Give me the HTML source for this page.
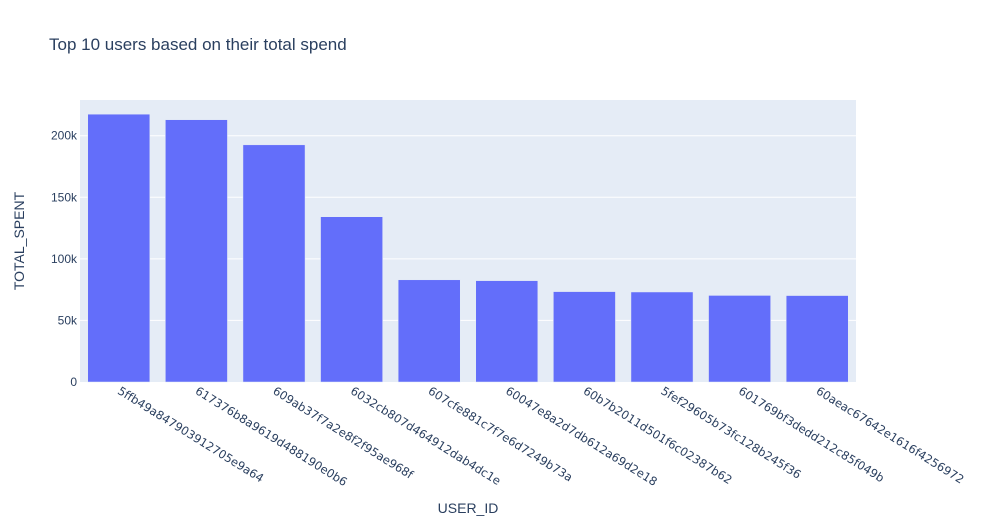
<!DOCTYPE html>
<html><head><meta charset="utf-8"><style>
body{margin:0;background:#fff;font-family:"Liberation Sans",Arial,sans-serif}
svg text{font-family:"Liberation Sans",Arial,sans-serif;fill:#2a3f5f}
svg text.xt{font-family:"DejaVu Sans",sans-serif}
</style></head><body>
<svg id="chart" width="985" height="525" xmlns="http://www.w3.org/2000/svg">
<text x="49" y="50" font-size="17">Top 10 users based on their total spend</text>
<rect x="80" y="100" width="776" height="282" fill="#e5ecf6"/>
<g id="grid"></g><g id="bars"></g><g id="xlabels"></g><g id="ylabels"></g>
<text transform="translate(24,241) rotate(-90)" text-anchor="middle" font-size="14">TOTAL_SPENT</text>
<text x="468" y="513" text-anchor="middle" font-size="14">USER_ID</text>
</svg>
<script>
const categories=["5ffb49a847903912705e9a64","617376b8a9619d488190e0b6","609ab37f7a2e8f2f95ae968f","6032cb807d464912dab4dc1e","607cfe881c7f7e6d7249b73a","60047e8a2d7db612a69d2e18","60b7b2011d501f6c02387b62","5fef29605b73fc128b245f36","601769bf3dedd212c85f049b","60aeac67642e1616f4256972"];
const values=[217500,213000,192600,134200,83000,82300,73400,73100,70300,70200];
const yTicks=[0,50000,100000,150000,200000];
const yTickLabels=["0","50k","100k","150k","200k"];
const X0=80,W=776,Y0=382,H=282,YMAX=229000;
const ns="http://www.w3.org/2000/svg";
const band=W/categories.length;
const xc=i=>X0+band*(i+0.5);
const y=v=>Y0-v/YMAX*H;
function mk(t,a,p){const e=document.createElementNS(ns,t);for(const k in a)e.setAttribute(k,a[k]);p.appendChild(e);return e;}
const grid=document.getElementById('grid'),bars=document.getElementById('bars'),xl=document.getElementById('xlabels'),yl=document.getElementById('ylabels');
yTicks.forEach((t,i)=>{
 if(t>0){const g=mk('line',{x1:X0,x2:X0+W,y1:y(t),y2:y(t),stroke:'#fff','stroke-width':1},grid);
 
 }
 const tx=mk('text',{x:X0-3,y:y(t)+4,'text-anchor':'end','font-size':12},yl);tx.textContent=yTickLabels[i];
 
 
});
categories.forEach((c,i)=>{
 const bw=band*0.8;
 const r=mk('rect',{x:xc(i)-bw/2,y:y(values[i]),width:bw,height:Y0-y(values[i]),fill:'#636efa',stroke:'#e5ecf6','stroke-width':0.5},bars);
 
 
 const t=mk('text',{class:'xt',transform:`translate(${xc(i)-2},${Y0+11}) rotate(32)`,'font-size':11.6},xl);t.textContent=c;
 
 
});
</script>
</body></html>
